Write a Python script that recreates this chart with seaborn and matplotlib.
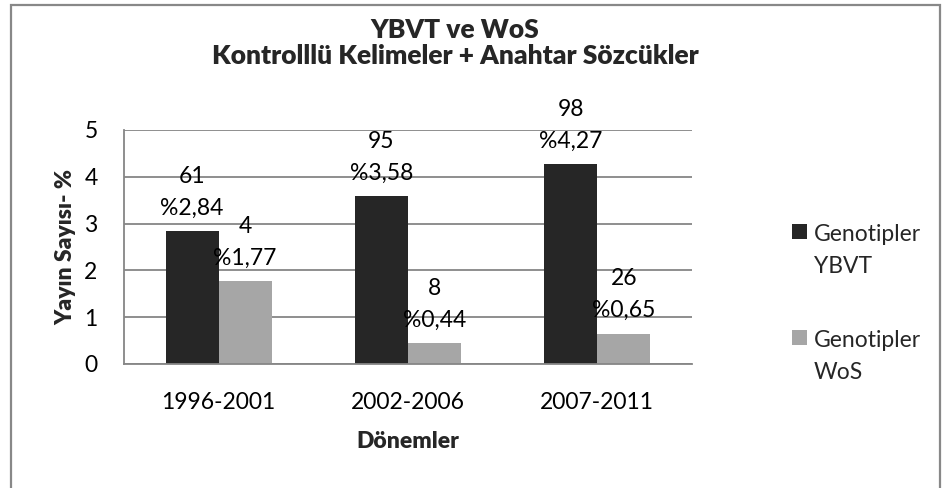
import numpy as np
import pandas as pd
import matplotlib
matplotlib.use("Agg")
import matplotlib.pyplot as plt
from matplotlib.patches import Rectangle
import seaborn as sns

# ---- data ----
periods = ["1996-2001", "2002-2006", "2007-2011"]
series_names = ["Genotipler\nYBVT", "Genotipler\nWoS"]
ybvt_pct = [2.84, 3.58, 4.27]
wos_pct = [1.77, 0.44, 0.65]
ybvt_count = [61, 95, 98]
wos_count = [4, 8, 26]
ybvt_pct_text = ["%2,84", "%3,58", "%4,27"]
wos_pct_text = ["%1,77", "%0,44", "%0,65"]
yticks = [0, 1, 2, 3, 4, 5]

df = pd.DataFrame({
    "period": periods * 2,
    "series": [series_names[0]] * 3 + [series_names[1]] * 3,
    "value": ybvt_pct + wos_pct,
})

sns.set_theme(style="white")
plt.rcParams["font.family"] = ["Lato", "DejaVu Sans"]

FS = 16.5
GRID = "#868686"
colors = ["#262626", "#a6a6a6"]

fig = plt.figure(figsize=(9.47, 4.88), dpi=100)
ax = fig.add_axes([124 / 947, 1 - 364 / 488, (692 - 124) / 947, (364 - 130) / 488])

sns.barplot(data=df, x="period", y="value", hue="series", palette=colors,
            width=0.56, gap=0, linewidth=0, saturation=1, ax=ax, legend=True)

ax.set_ylim(0, 5)
ax.set_xlim(-0.5, 2.5)
ax.set_yticks(yticks)
ax.set_yticklabels([str(t) for t in yticks], fontsize=FS, color="black")
ax.set_xticks(range(len(periods)))
ax.set_xticklabels(periods, fontsize=FS, color="black")
ax.set_xticks([-0.5, 0.5, 1.5, 2.5], minor=True)
ax.tick_params(axis="x", which="major", length=0, pad=20)
ax.tick_params(axis="x", which="minor", length=6, width=1.2, color=GRID, direction="out")
ax.tick_params(axis="y", which="major", length=0, pad=19)

ax.yaxis.grid(True, color=GRID, linewidth=1.3)
ax.xaxis.grid(False)
ax.set_axisbelow(True)
for s in ["top", "right"]:
    ax.spines[s].set_visible(False)
for s in ["left", "bottom"]:
    ax.spines[s].set_color(GRID)
    ax.spines[s].set_linewidth(1.3)

ax.set_xlabel("Dönemler", fontsize=FS, fontweight="heavy", labelpad=13)
ax.set_ylabel("Yayın Sayısı- %", fontsize=FS, fontweight="heavy", labelpad=6)

# data labels
label_sets = [
    [f"{c}\n{p}" for c, p in zip(ybvt_count, ybvt_pct_text)],
    [f"{c}\n{p}" for c, p in zip(wos_count, wos_pct_text)],
]
for cont, labs in zip(ax.containers, label_sets):
    ax.bar_label(cont, labels=labs, padding=9, fontsize=FS, linespacing=1.65,
                 color="black")

# legend
handles, labels = ax.get_legend_handles_labels()
leg = ax.legend(handles, labels, loc="upper left", bbox_to_anchor=(792 / 947, 1 - 224 / 488),
                bbox_transform=fig.transFigure, frameon=False, fontsize=FS,
                handlelength=0.65, handleheight=0.65, handletextpad=0.3,
                labelspacing=2.3, borderpad=0, borderaxespad=0)
for t in leg.get_texts():
    t.set_linespacing(1.65)
for col in leg._legend_handle_box.get_children():
    for item in col.get_children():
        item.align = "top"

# title
fig.text(455 / 947, 1 - 43 / 488, "YBVT ve WoS\nKontrolllü Kelimeler + Anahtar Sözcükler",
         ha="center", va="center", fontsize=19, fontweight="heavy", linespacing=1.12)

# chart border
fig.patches.append(Rectangle((11 / 947, -0.05), (940 - 11) / 947, 1.05 - 5 / 488,
                             transform=fig.transFigure, fill=False,
                             edgecolor="#888888", linewidth=1.6))

fig.savefig("out.png", dpi=100)
